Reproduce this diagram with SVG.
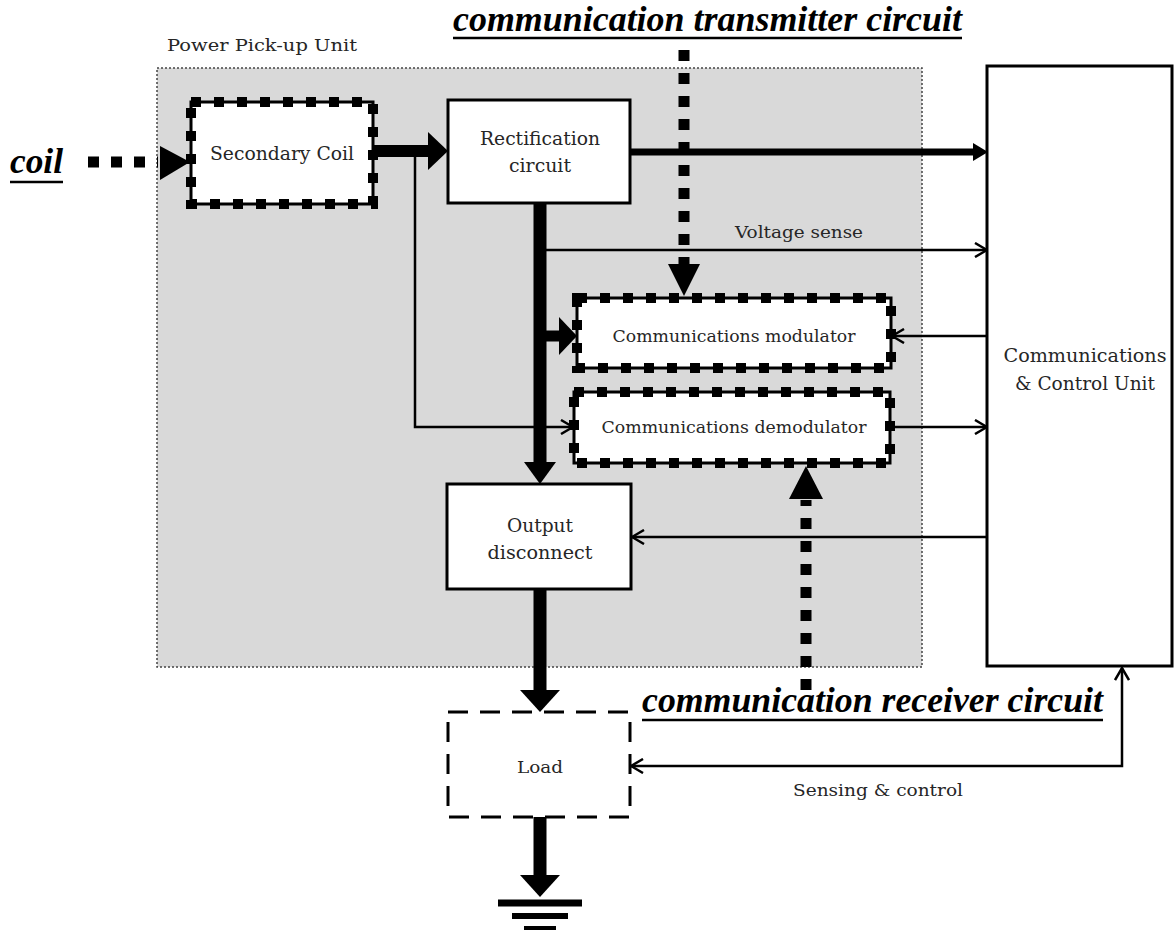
<svg xmlns="http://www.w3.org/2000/svg" width="1175" height="930" viewBox="0 0 1175 930">
  <style>
    .box { fill: #ffffff; stroke: #000; stroke-width: 3; }
    .dots-line { fill: #ffffff; stroke: #000; stroke-width: 3; }
    .dots-sq { fill: none; stroke: #000; stroke-width: 10; stroke-dasharray: 10 13; }
    .thin { fill: none; stroke: #000; stroke-width: 2.5; }
    .thick { fill: none; stroke: #000; }
    .sq { fill: none; stroke: #000; stroke-width: 11; stroke-dasharray: 11 12; }
    .head { fill: #000; stroke: none; }
    .lbl { font-family: "DejaVu Serif", "Liberation Serif", serif; fill: #262626; text-anchor: middle; dominant-baseline: central; }
    .hdr { font-family: "Liberation Serif", "Times New Roman", serif; font-weight: bold; font-style: italic; font-size: 35px; fill: #000; }
    .uline { stroke: #000; stroke-width: 2.5; }
  </style>
  <defs>
    <marker id="open" viewBox="0 0 14 16" refX="13" refY="8" markerWidth="14" markerHeight="16" markerUnits="userSpaceOnUse" orient="auto-start-reverse">
      <path d="M1,1 L13,8 L1,15" fill="none" stroke="#000" stroke-width="2.5"/>
    </marker>
  </defs>

  <rect width="1175" height="930" fill="#ffffff"/>

  <!-- power pick-up unit enclosure -->
  <g id="power-pickup-unit">
    <rect x="157" y="68" width="765" height="599" fill="#d9d9d9" stroke="#444" stroke-width="1.5" stroke-dasharray="2 2"/>
    <text class="lbl" x="262" y="45" font-size="17" textLength="190" lengthAdjust="spacingAndGlyphs">Power Pick-up Unit</text>
  </g>

  <!-- headings -->
  <g id="label-transmitter">
    <text class="hdr" x="453" y="31" textLength="509" lengthAdjust="spacingAndGlyphs">communication transmitter circuit</text>
    <line class="uline" x1="453" y1="38" x2="962" y2="38"/>
  </g>
  <g id="label-receiver">
    <text class="hdr" x="642" y="712" textLength="461" lengthAdjust="spacingAndGlyphs">communication receiver circuit</text>
    <line class="uline" x1="642" y1="720" x2="1103" y2="720"/>
  </g>
  <g id="label-coil">
    <text class="hdr" x="10" y="173" textLength="53" lengthAdjust="spacingAndGlyphs">coil</text>
    <line class="uline" x1="10" y1="182" x2="63" y2="182"/>
  </g>

  <!-- connectors -->
  <g id="connectors">
    <!-- coil input (square dotted) -->
    <line class="sq" x1="88" y1="162" x2="158" y2="162"/>
    <polygon class="head" points="160,146 190,162 160,180"/>

    <!-- secondary coil to rectification -->
    <line class="thick" x1="373" y1="151" x2="430" y2="151" stroke-width="12"/>
    <polygon class="head" points="428,132 448,151 428,170"/>

    <!-- coil tap to demodulator -->
    <path class="thin" d="M415,151 V427 H573" marker-end="url(#open)"/>

    <!-- rectification to control unit -->
    <line class="thick" x1="630" y1="152" x2="975" y2="152" stroke-width="7"/>
    <polygon class="head" points="973,143 988,152 973,161"/>

    <!-- rectified bus down to output disconnect -->
    <line class="thick" x1="540" y1="203" x2="540" y2="464" stroke-width="13"/>
    <polygon class="head" points="524,462 540,484 556,462"/>

    <!-- voltage sense -->
    <line class="thin" x1="546" y1="250" x2="987" y2="250" marker-end="url(#open)"/>
    <text class="lbl" x="799" y="232" font-size="17" textLength="128" lengthAdjust="spacingAndGlyphs">Voltage sense</text>

    <!-- bus to modulator -->
    <line class="thick" x1="545" y1="336" x2="562" y2="336" stroke-width="11"/>
    <polygon class="head" points="559,317 577,336 559,355"/>

    <!-- control unit to modulator -->
    <line class="thin" x1="992" y1="336" x2="892" y2="336" marker-end="url(#open)"/>

    <!-- demodulator to control unit -->
    <line class="thin" x1="890" y1="427" x2="987" y2="427" marker-end="url(#open)"/>

    <!-- control unit to output disconnect -->
    <line class="thin" x1="987" y1="537" x2="632" y2="537" marker-end="url(#open)"/>

    <!-- transmitter circuit (square dotted) -->
    <line class="sq" x1="684" y1="50" x2="684" y2="264"/>
    <polygon class="head" points="668,264 684,296 700,264"/>

    <!-- receiver circuit (square dotted) -->
    <line class="sq" x1="806" y1="690" x2="806" y2="500"/>
    <polygon class="head" points="789,499 806,466 823,499"/>

    <!-- output disconnect to load -->
    <line class="thick" x1="540" y1="589" x2="540" y2="692" stroke-width="13"/>
    <polygon class="head" points="520,690 540,712 560,690"/>

    <!-- sensing & control -->
    <path class="thin" d="M631,766 H1122 V668" marker-start="url(#open)" marker-end="url(#open)"/>
    <text class="lbl" x="878" y="790" font-size="17" textLength="170" lengthAdjust="spacingAndGlyphs">Sensing &amp; control</text>

    <!-- load to ground -->
    <line class="thick" x1="540" y1="817" x2="540" y2="877" stroke-width="13"/>
    <polygon class="head" points="520,875 540,897 560,875"/>
  </g>

  <!-- ground symbol -->
  <g id="ground">
    <line x1="498" y1="903" x2="582" y2="903" stroke="#000" stroke-width="7"/>
    <line x1="512" y1="916" x2="568" y2="916" stroke="#000" stroke-width="6"/>
    <line x1="524" y1="929" x2="556" y2="929" stroke="#000" stroke-width="6"/>
  </g>

  <g id="secondary-coil">
    <rect class="dots-line" x="191" y="102" width="182" height="102"/>
    <rect class="dots-sq" x="191" y="102" width="182" height="102"/>
    <text class="lbl" x="282" y="153" font-size="18" textLength="144" lengthAdjust="spacingAndGlyphs">Secondary Coil</text>
  </g>

  <g id="rectification-circuit">
    <rect class="box" x="448" y="100" width="182" height="103"/>
    <text class="lbl" x="540" y="138" font-size="19" textLength="120" lengthAdjust="spacingAndGlyphs">Rectification</text>
    <text class="lbl" x="540" y="165" font-size="19" textLength="62" lengthAdjust="spacingAndGlyphs">circuit</text>
  </g>

  <g id="communications-modulator">
    <rect class="dots-line" x="577" y="298" width="314" height="70"/>
    <rect class="dots-sq" x="577" y="298" width="314" height="70"/>
    <text class="lbl" x="734" y="336" font-size="17" textLength="243" lengthAdjust="spacingAndGlyphs">Communications modulator</text>
  </g>

  <g id="communications-demodulator">
    <rect class="dots-line" x="574" y="392" width="316" height="71"/>
    <rect class="dots-sq" x="574" y="392" width="316" height="71"/>
    <text class="lbl" x="734" y="427" font-size="17" textLength="265" lengthAdjust="spacingAndGlyphs">Communications demodulator</text>
  </g>

  <g id="output-disconnect">
    <rect class="box" x="447" y="484" width="184" height="105"/>
    <text class="lbl" x="540" y="525" font-size="18" textLength="66" lengthAdjust="spacingAndGlyphs">Output</text>
    <text class="lbl" x="540" y="552" font-size="18" textLength="105" lengthAdjust="spacingAndGlyphs">disconnect</text>
  </g>

  <g id="load">
    <rect x="448" y="712" width="182" height="105" fill="#ffffff" stroke="#000" stroke-width="3" stroke-dasharray="20 12"/>
    <text class="lbl" x="540" y="767" font-size="16" textLength="46" lengthAdjust="spacingAndGlyphs">Load</text>
  </g>

  <g id="communications-control-unit">
    <rect class="box" x="987" y="66" width="185" height="600"/>
    <text class="lbl" x="1085" y="355" font-size="18" textLength="163" lengthAdjust="spacingAndGlyphs">Communications</text>
    <text class="lbl" x="1085" y="383" font-size="18" textLength="140" lengthAdjust="spacingAndGlyphs">&amp; Control Unit</text>
  </g>
</svg>
